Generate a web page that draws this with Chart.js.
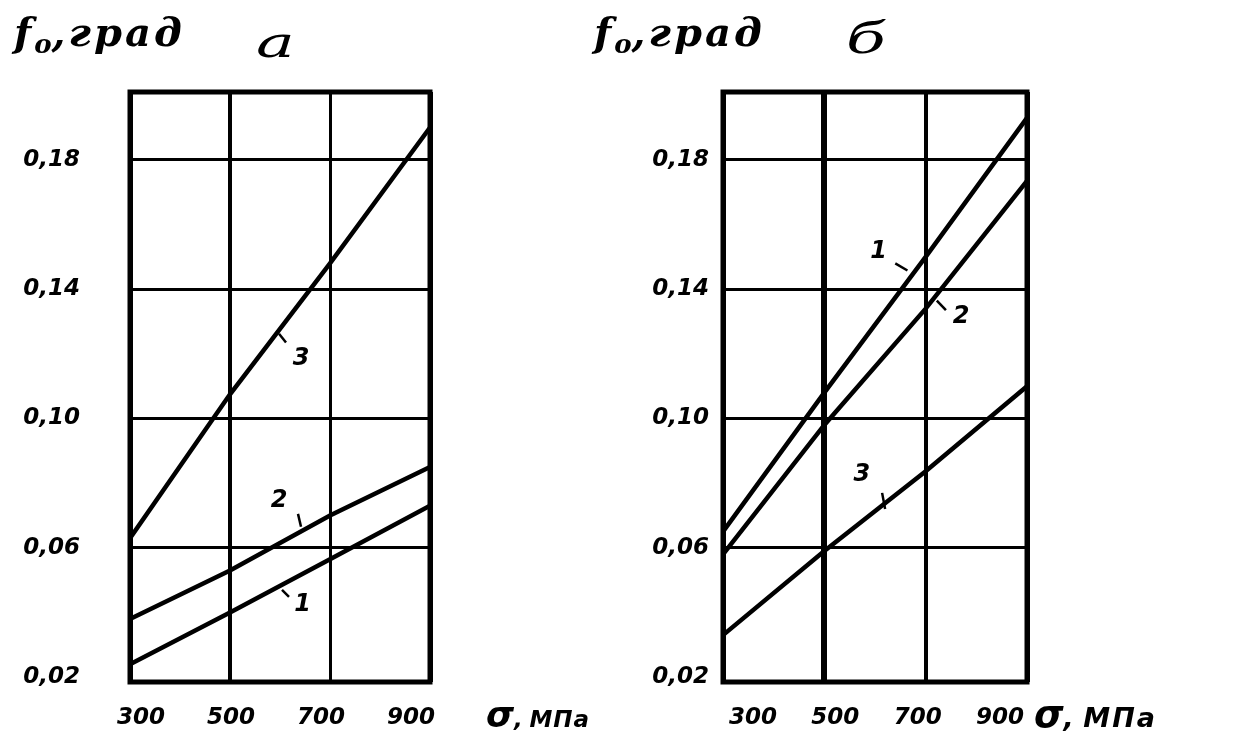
<!DOCTYPE html>
<html><head><meta charset="utf-8">
<script src="https://cdn.jsdelivr.net/npm/chart.js@4/dist/chart.umd.min.js"></script>
<style>
html,body{margin:0;padding:0;background:#fff;}
body{width:1248px;height:742px;position:relative;overflow:hidden;font-family:"DejaVu Sans",sans-serif;}
.pane{position:absolute;top:0;width:624px;height:742px;}
canvas{display:block;}
.t{position:absolute;color:#000;font-style:italic;white-space:nowrap;line-height:1;}
.ft{font-family:"DejaVu Serif",serif;font-weight:bold;font-size:40px;letter-spacing:3px;}
.ft sub{font-size:26px;vertical-align:-7px;letter-spacing:0;}
.pl{font-family:"DejaVu Serif",serif;font-size:42px;transform:scaleX(1.55);transform-origin:left top;}
.xt{font-weight:bold;font-size:23px;letter-spacing:1px;}
.xt b{font-size:36px;font-weight:bold;letter-spacing:0;}
.xr{font-size:27px;letter-spacing:2px;}
.xr b{font-size:38px;}
</style></head><body>
<div class="pane" style="left:0"><canvas id="ca" width="624" height="742"></canvas></div>
<div class="pane" style="left:624px"><canvas id="cb" width="624" height="742"></canvas></div>

<div class="t ft" style="left:14px;top:12px;">f<sub>o</sub>,град</div>
<div class="t pl" style="left:256px;top:22px;">а</div>
<div class="t ft" style="left:594px;top:12px;">f<sub>o</sub>,град</div>
<div class="t pl" style="left:846px;top:18px;">б</div>

<div class="t xt" style="left:486px;top:697px;"><b>σ</b>,&#8201;МПа</div>
<div class="t xt xr" style="left:1034px;top:695px;"><b>σ</b>,&#8201;МПа</div>

<script>
// ---- data ----
const sigma = [300, 500, 700, 900];            // σ, МПа
const xTickLabels = ['300', '500', '700', '900'];
const yTicks = [0.02, 0.06, 0.10, 0.14, 0.18];
const yTickLabels = ['0,02', '0,06', '0,10', '0,14', '0,18'];

// panel а
const a1 = [0.024, 0.040, 0.0565, 0.073];
const a2 = [0.038, 0.053, 0.070, 0.085];
const a3 = [0.063, 0.1075, 0.148, 0.190];
// panel б
const b1 = [0.065, 0.108, 0.150, 0.193];
const b2 = [0.058, 0.098, 0.134, 0.1735];
const b3 = [0.033, 0.059, 0.0837, 0.110];

// curve number annotations (data coordinates)
const marksA = [
  {text: '3', x: 642, y: 0.1185, from: [598, 0.1262], to: [612, 0.1235]},
  {text: '2', x: 598, y: 0.0745, from: [636, 0.0705], to: [642, 0.0665]},
  {text: '1', x: 645, y: 0.0425, from: [604, 0.0470], to: [618, 0.0448]}
];
const marksB = [
  {text: '1', x: 607, y: 0.1515, from: [640, 0.1480], to: [664, 0.1458]},
  {text: '2', x: 770, y: 0.1315, from: [722, 0.1365], to: [740, 0.1335]},
  {text: '3', x: 574, y: 0.0825, from: [614, 0.0770], to: [620, 0.0720]}
];

const tickFont = {family: 'DejaVu Sans', size: 23, weight: 'bold', style: 'italic'};

const framePlugin = {
  id: 'frame',
  beforeDatasetsDraw(chart) {
    const a = chart.chartArea, c = chart.ctx;
    c.save();
    c.strokeStyle = '#000';
    c.lineWidth = 5;
    c.strokeRect(a.left, a.top, a.right - a.left, a.bottom - a.top);
    c.restore();
  }
};

const marksPlugin = {
  id: 'marks',
  afterDatasetsDraw(chart, args, opts) {
    const c = chart.ctx, sx = chart.scales.x, sy = chart.scales.y;
    c.save();
    c.fillStyle = '#000';
    c.strokeStyle = '#000';
    c.font = 'italic bold 24px "DejaVu Sans"';
    c.textAlign = 'center';
    c.textBaseline = 'middle';
    c.lineWidth = 2.5;
    (opts.items || []).forEach(m => {
      c.fillText(m.text, sx.getPixelForValue(m.x), sy.getPixelForValue(m.y));
      c.beginPath();
      c.moveTo(sx.getPixelForValue(m.from[0]), sy.getPixelForValue(m.from[1]));
      c.lineTo(sx.getPixelForValue(m.to[0]), sy.getPixelForValue(m.to[1]));
      c.stroke();
    });
    c.restore();
  }
};

function build(id, series, o) {
  const Y_W = 130;
  const W = o.right - o.left;
  // label axis: the hand-drawn tick labels sit slightly inside the frame
  const span = (sigma[3] - sigma[0]) * W / (W - o.lab[0] - o.lab[1]);
  const lmin = sigma[0] - o.lab[0] / W * span;
  return new Chart(document.getElementById(id), {
    type: 'line',
    data: {
      datasets: series.map(s => ({
        data: sigma.map((x, i) => ({x: x, y: s[i]})),
        borderColor: '#000',
        borderWidth: 4.5,
        pointRadius: 0,
        tension: 0,
        fill: false
      }))
    },
    options: {
      responsive: false,
      animation: false,
      layout: {padding: {left: o.left - Y_W, right: 624 - o.right, top: 92, bottom: 742 - 682 - 50}},
      plugins: {legend: {display: false}, tooltip: {enabled: false}, marks: {items: o.marks}},
      scales: {
        x: {
          type: 'linear', min: 300, max: 900, weight: 2,
          afterBuildTicks: s => { s.ticks = sigma.map(v => ({value: v})); },
          afterFit: s => { s.height = 0; s.paddingLeft = 0; s.paddingRight = 0; },
          border: {display: false},
          grid: {drawTicks: false, color: '#000', lineWidth: c => o.xw[c.index]},
          ticks: {display: false}
        },
        xl: {
          type: 'linear', position: 'bottom', weight: 1, min: lmin, max: lmin + span,
          afterBuildTicks: s => { s.ticks = sigma.map(v => ({value: v})); },
          afterFit: s => { s.height = 50; s.paddingLeft = 0; s.paddingRight = 0; },
          border: {display: false},
          grid: {display: false, drawTicks: false},
          ticks: {padding: 22, color: '#000', font: tickFont, maxRotation: 0, autoSkip: false,
                  callback: (v, i) => xTickLabels[i]}
        },
        y: {
          type: 'linear', min: 0.0185, max: 0.201,
          afterBuildTicks: s => { s.ticks = yTicks.map(v => ({value: v})); },
          afterFit: s => { s.width = Y_W; s.paddingTop = 0; s.paddingBottom = 0; },
          border: {display: false},
          grid: {drawTicks: false, color: '#000', lineWidth: c => c.index === 0 ? 0 : 3},
          ticks: {padding: o.ypad, color: '#000', font: tickFont, autoSkip: false,
                  callback: (v, i) => yTickLabels[i]}
        }
      }
    },
    plugins: [framePlugin, marksPlugin]
  });
}

build('ca', [a1, a2, a3], {left: 130, right: 430, ypad: 50, xw: [5, 4, 3, 5], lab: [11, 19], marks: marksA});
build('cb', [b1, b2, b3], {left: 723 - 624, right: 1027 - 624, ypad: 14, xw: [5, 6, 4, 5], lab: [30, 27], marks: marksB});
</script>
</body></html>
